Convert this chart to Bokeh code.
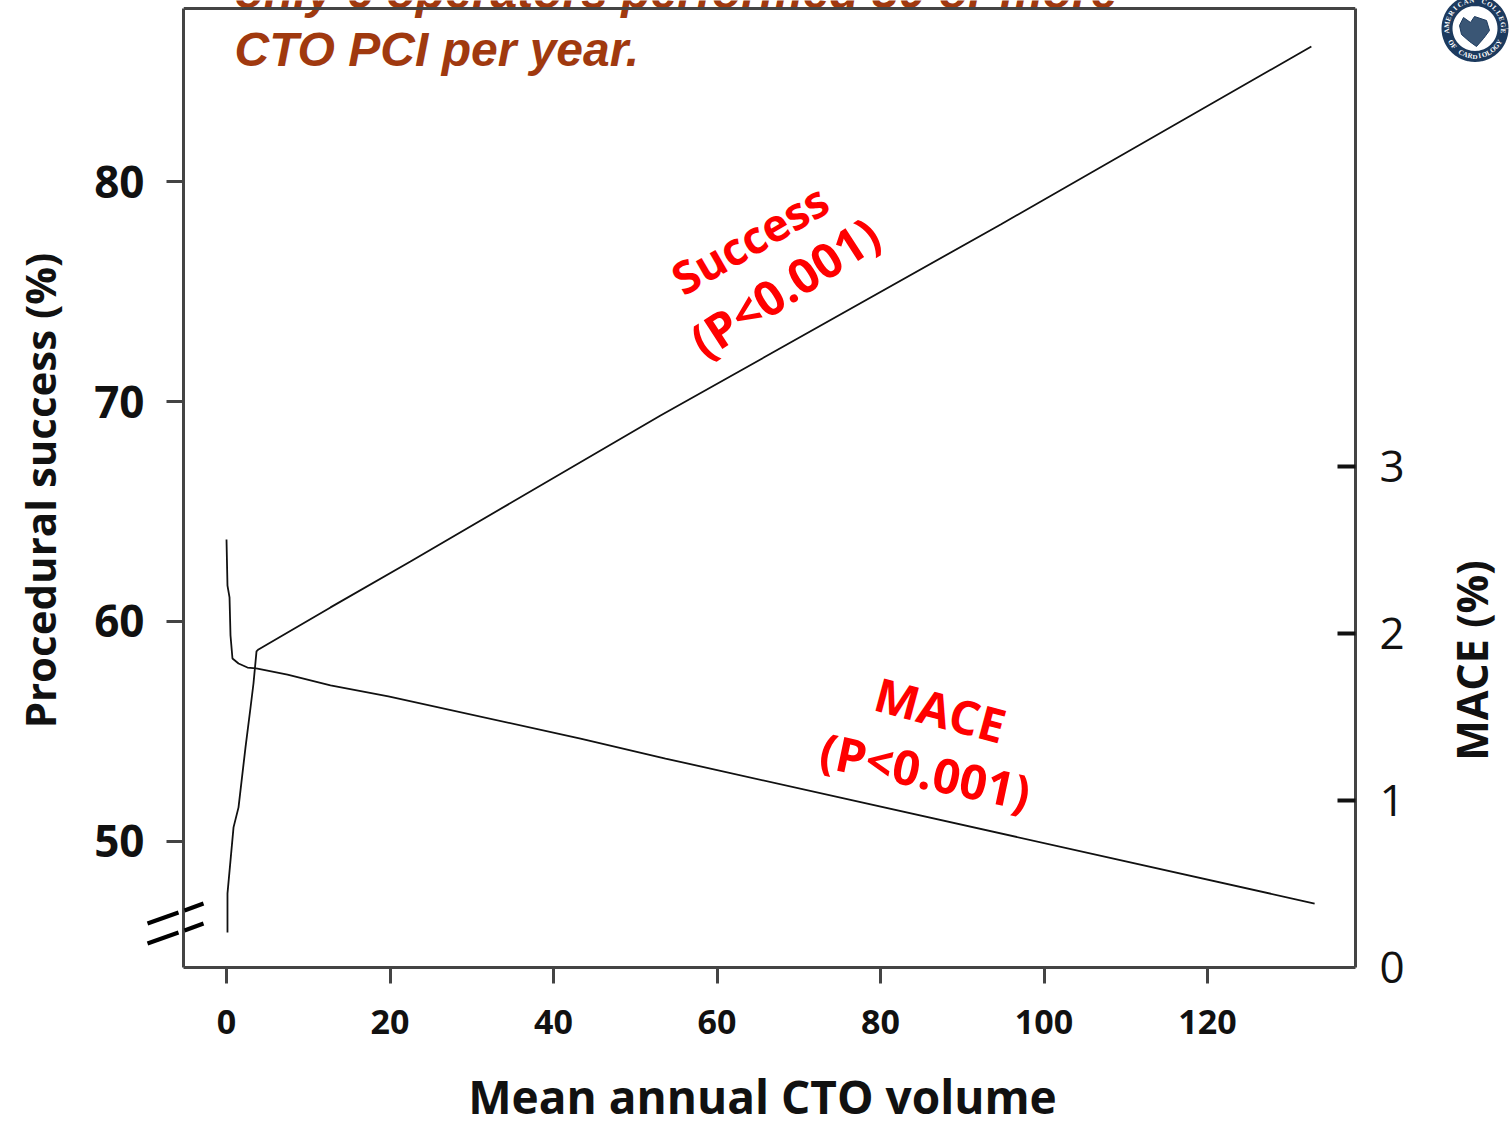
import math
from bokeh.plotting import figure
from bokeh.models import Range1d, LinearAxis, Label, FixedTicker, Span
from bokeh.core.properties import value
from bokeh.embed import file_html
from bokeh.resources import INLINE

volume_success = [0.12, 0.12, 0.86, 1.47, 2.32, 2.94, 3.3, 3.67, 3.91, 12.72, 22.5, 53.09, 94.7, 132.7]
success_pct = [45.86, 47.64, 50.64, 51.55, 54.27, 56.09, 57.18, 58.64, 58.73, 60.64, 62.73, 69.36, 78.05, 86.14]
volume_mace = [0.0, 0.12, 0.37, 0.49, 0.73, 1.47, 2.57, 3.79, 7.46, 12.72, 19.8, 43.3, 53.7, 133.1]
mace_pct = [2.563, 2.287, 2.216, 1.988, 1.85, 1.82, 1.796, 1.79, 1.754, 1.689, 1.623, 1.371, 1.251, 0.383]
x_ticks = [0, 20, 40, 60, 80, 100, 120]
left_ticks = [50, 60, 70, 80]
right_ticks = [0, 1, 2, 3]
right_marks = [1, 2, 3]

W, H = 1511, 1124
L, R, T, B = 183, 1355, 0, 967
BOX_TOP = 8
FONT = "Open Sans"
AXC = "#444444"
INK = "#111111"
X0, X1, Y0, Y1 = -5.26, 138.1, 44.27, 88.23

p = figure(width=W, height=H, output_backend="svg", toolbar_location=None,
           x_range=Range1d(X0, X1), y_range=Range1d(Y0, Y1),
           min_border_left=L, min_border_right=W - R, min_border_top=T, min_border_bottom=H - B,
           background_fill_color="white", border_fill_color="white", outline_line_color=None)
p.grid.visible = False
p.extra_y_ranges = {"mace": Range1d(0, 5.79)}

def sx(a): return X0 + (a - L) / (R - L) * (X1 - X0)
def sy(b): return Y0 + (B - b) / (B - T) * (Y1 - Y0)

def style(ax, size, weight="bold"):
    ax.axis_line_color = AXC
    ax.axis_line_width = 3
    ax.major_tick_line_color = AXC
    ax.major_tick_line_width = 3
    ax.minor_tick_line_color = None
    ax.major_label_text_font = FONT
    ax.major_label_text_font_size = size
    ax.major_label_text_font_style = weight
    ax.major_label_text_color = INK

xa = p.xaxis[0]
style(xa, "34px")
xa.ticker = FixedTicker(ticks=x_ticks)
xa.major_tick_out = 16
xa.major_tick_in = 0
xa.major_label_standoff = 26

ya = p.yaxis[0]
style(ya, "44px")
ya.ticker = FixedTicker(ticks=left_ticks)
ya.major_tick_out = 17
ya.major_tick_in = 0
ya.major_label_standoff = 22
ya.bounds = (Y0, sy(BOX_TOP))

ra = LinearAxis(y_range_name="mace", ticker=FixedTicker(ticks=right_ticks, minor_ticks=right_marks))
style(ra, "44px", "normal")
ra.major_tick_line_color = None
ra.major_tick_out = 0
ra.major_tick_in = 0
ra.minor_tick_line_color = INK
ra.minor_tick_line_width = 4
ra.minor_tick_in = 18
ra.minor_tick_out = 0
ra.major_label_standoff = 24
ra.bounds = (0, (B - BOX_TOP) / 167)
p.add_layout(ra, "right")

p.add_layout(Span(location=sy(BOX_TOP), dimension="width", line_color=AXC, line_width=3, level="overlay"))

p.line(volume_success, success_pct, line_color=INK, line_width=1.8)
p.line(volume_mace, mace_pct, y_range_name="mace", line_color=INK, line_width=1.8)

def lab(text, x, y, size, color=INK, angle=0, weight="bold", font=FONT, align="center"):
    p.add_layout(Label(x=x, y=y, x_units="canvas", y_units="canvas", text=text,
                       text_font=font, text_font_size=size, text_font_style=weight,
                       text_color=color, angle=math.radians(angle), angle_units="rad",
                       text_align=align, text_baseline="middle"))

def outer(text, x, y, size, angle=0, color=INK, weight="bold", font=FONT):
    p.text([sx(x)], [sy(y)], text=[text], text_font=value(font), text_font_size=size,
           text_font_style=weight, text_color=color, angle=math.radians(angle),
           text_align="center", text_baseline="middle").level = "overlay"

# Axis break marks, in canvas pixels
for xs, ys in [((147, 178), (923, 912)), ((184, 203), (910, 903)),
               ((147, 178), (943, 932)), ((184, 203), (930, 923))]:
    p.line([sx(a) for a in xs], [sy(b) for b in ys],
           line_color="black", line_width=4).level = "overlay"

lab("Success", 749, 238, "45px", "#ff0000", 30)
lab("(P<0.001)", 784, 286, "48px", "#ff0000", 33)
lab("MACE", 940, 709, "47px", "#ff0000", -15)
lab("(P<0.001)", 925, 770, "48px", "#ff0000", -12)

lab("only 6 operators performed 30 or more", 234, -9, "48px", "#A0390F", 0, "bold italic", "Liberation Sans", "left")
lab("CTO PCI per year.", 234, 49, "48px", "#A0390F", 0, "bold italic", "Liberation Sans", "left")

outer("Mean annual CTO volume", 762, 1095, "46px")
outer("Procedural success (%)", 39, 490, "42px", 90)
outer("MACE (%)", 1471, 660, "43px", 90)

# Society seal, drawn beyond the frame in canvas pixels
cx, cy = 1474.5, 28
NAVY = "#1c3a5e"
RING = 28
a = [i * math.pi / 30 for i in range(61)]
p.line([sx(cx + RING * math.cos(t)) for t in a], [sy(cy + RING * math.sin(t)) for t in a],
       line_color=NAVY, line_width=11).level = "overlay"
heart_xs = [1474, 1486, 1489, 1483, 1476, 1469, 1461, 1459, 1463, 1470, 1474]
heart_ys = [16, 20, 30, 38, 46, 41, 34, 25, 17, 22, 16]
p.patch([sx(v) for v in heart_xs], [sy(v) for v in heart_ys],
        fill_color="#3a5675", line_color=NAVY).level = "overlay"

def arc_text(text, start, stop, flip):
    for i, ch in enumerate(text):
        deg = start + (stop - start) * i / (len(text) - 1)
        t = math.radians(deg)
        turn = 180 - deg if flip else -deg
        outer(ch, cx + RING * math.sin(t), cy - RING * math.cos(t), "7px", turn, "white", "bold", "Liberation Serif")

arc_text("AMERICAN COLLEGE", -95, 95, False)
arc_text("OF CARDIOLOGY", 240, 120, True)

open("out.html", "w").write(file_html(p, INLINE))
